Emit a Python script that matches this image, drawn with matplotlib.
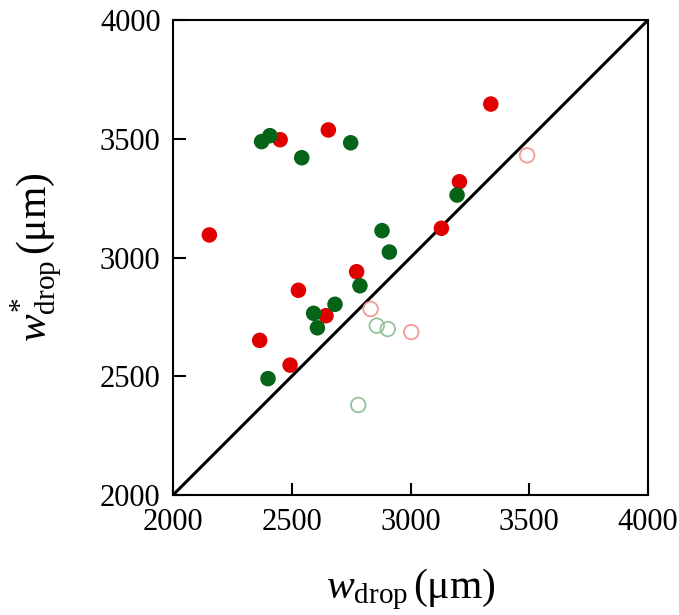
import numpy as np
import matplotlib
matplotlib.use("Agg")
import matplotlib.pyplot as plt

# Data
red_x = [2153, 2451, 2654, 2773, 2528, 2644, 2365, 2493, 3338, 3206, 3130]
red_y = [3095, 3496, 3537, 2940, 2862, 2755, 2651, 2547, 3646, 3319, 3123]
green_x = [2373, 2408, 2748, 2542, 2880, 2911, 2787, 2682, 2592, 2608, 2400, 3196]
green_y = [3488, 3513, 3483, 3420, 3113, 3023, 2881, 2803, 2765, 2704, 2490, 3263]
red_open_x = [2832, 3003, 3491]
red_open_y = [2783, 2686, 3430]
green_open_x = [2858, 2904, 2780]
green_open_y = [2713, 2699, 2379]
ticks = [2000, 2500, 3000, 3500, 4000]

plt.rcParams['font.family'] = ['Liberation Serif', 'DejaVu Serif']
plt.rcParams['mathtext.fontset'] = 'custom'
plt.rcParams['mathtext.rm'] = 'Liberation Serif'
plt.rcParams['mathtext.it'] = 'Liberation Serif:italic'

fig = plt.figure(figsize=(6.79, 6.15), dpi=100)
ax = fig.add_axes([0.2548, 0.1951, 0.6996, 0.7724])

# 1:1 line
ax.plot([2000, 4000], [2000, 4000], color='black', lw=2.2, zorder=1)

ax.scatter(red_x, red_y, s=125, color='#e00000', edgecolors='none', zorder=3)
ax.scatter(green_x, green_y, s=125, color='#056417', edgecolors='none', zorder=3)
ax.scatter(red_open_x, red_open_y, s=110, facecolors='none', edgecolors='#f29a9a', linewidths=1.3, zorder=2)
ax.scatter(green_open_x, green_open_y, s=110, facecolors='none', edgecolors='#94c39c', linewidths=1.3, zorder=2)

ax.set_xlim(2000, 4000)
ax.set_ylim(2000, 4000)
ax.set_xticks(ticks)
ax.set_yticks(ticks)
ax.tick_params(direction='in', length=9, width=1.5, labelsize=22, pad=9)
for s in ax.spines.values():
    s.set_linewidth(1.5)

ax.set_xlabel(r'$w_{\mathrm{drop}}\,(\mathrm{μm})$', fontsize=30, labelpad=22)
ax.set_ylabel(r'$w^{*}_{\mathrm{drop}}\,(\mathrm{μm})$', fontsize=30, labelpad=26)

fig.savefig('out.png', dpi=100)
